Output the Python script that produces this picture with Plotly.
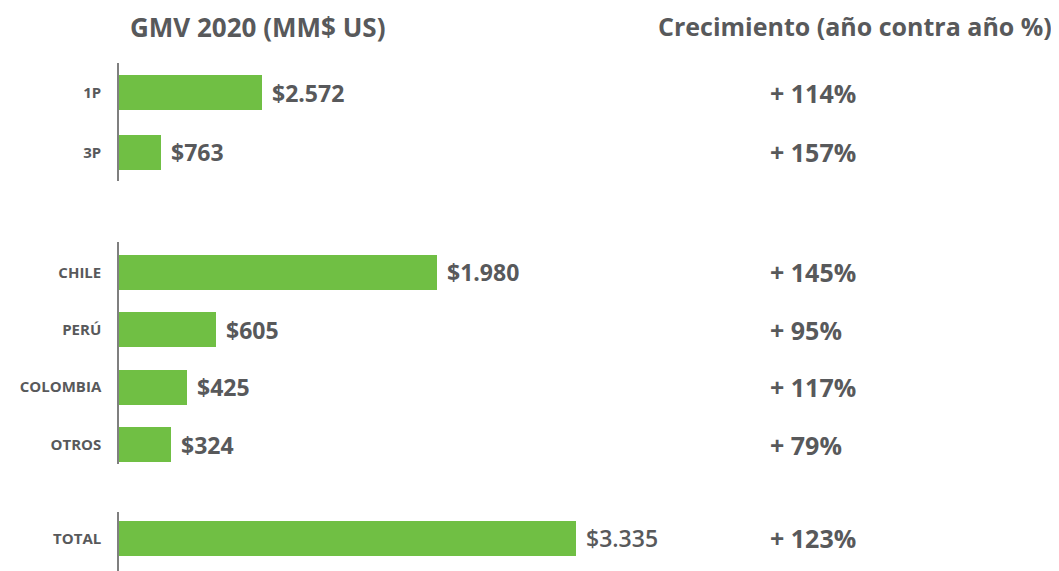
import plotly.graph_objects as go

# Data
g1_cats = ["1P", "3P"]
g1_vals = [2572, 763]
g1_labels = ["$2.572", "$763"]
g1_growth = ["+ 114%", "+ 157%"]

g2_cats = ["CHILE", "PERÚ", "COLOMBIA", "OTROS"]
g2_vals = [1980, 605, 425, 324]
g2_labels = ["$1.980", "$605", "$425", "$324"]
g2_growth = ["+ 145%", "+ 95%", "+ 117%", "+ 79%"]

g3_cats = ["TOTAL"]
g3_vals = [3335]
g3_labels = ["$3.335"]
g3_growth = ["+ 123%"]

W, H = 1059, 571
OFF = 8  # page body margin
GREEN = "#70bf44"
GRAY = "#58595b"
FONT = "Open Sans"

def px(p):
    return (p - OFF) / W

def py(p):
    return 1 - (p - OFF) / H

x0 = px(119)
fig = go.Figure()

groups = [
    (g1_cats, g1_vals, g1_labels, g1_growth, "x", "y", 17050, [63, 181], [1.48, -0.5], 0.59, ["bold"] * 2),
    (g2_cats, g2_vals, g2_labels, g2_growth, "x2", "y2", 5902, [242, 464], [3.34, -0.53], 0.61, ["bold"] * 4),
    (g3_cats, g3_vals, g3_labels, g3_growth, "x3", "y3", 6918, [512, 571], [0.565, -0.46], 0.61, [600]),
]

annotations = []
for i, (cats, vals, labs, grow, xa, ya, xr, dom, yr, bw, weights) in enumerate(groups):
    fig.add_trace(go.Bar(
        x=vals, y=cats, orientation="h", xaxis=xa, yaxis=ya,
        marker=dict(color=GREEN, line=dict(width=0)), width=bw,
        hoverinfo="skip", showlegend=False,
    ))
    suffix = "" if i == 0 else str(i + 1)
    d1 = max(py(dom[1]), 0)
    fig.update_layout(**{
        "xaxis" + suffix: dict(domain=[x0, 1], range=[0, xr], visible=False,
                               anchor="y" + suffix),
        "yaxis" + suffix: dict(domain=[d1, py(dom[0])], range=yr,
                               anchor="x" + suffix, type="category",
                               showline=True, linecolor="#7f7f7f", linewidth=1.5,
                               showgrid=False, zeroline=False, ticks="",
                               ticklabelstandoff=13, automargin=False,
                               tickfont=dict(family=FONT, size=15, color=GRAY,
                                             weight="bold")),
    })
    for c, v, l, g, wt in zip(cats, vals, labs, grow, weights):
        annotations.append(dict(
            x=v, y=c, xref=xa, yref=ya, text=l, showarrow=False,
            xanchor="left", yanchor="middle", xshift=8,
            font=dict(family=FONT, size=23, color=GRAY, weight=wt),
        ))
        annotations.append(dict(
            x=px(768), y=c, xref="paper", yref=ya, text=g, showarrow=False,
            xanchor="left", yanchor="middle",
            font=dict(family=FONT, size=25, color=GRAY, weight="bold"),
        ))

annotations.append(dict(x=px(257), y=1, xref="paper", yref="paper",
                        text="GMV 2020 (MM$ US)", showarrow=False,
                        xanchor="center", yanchor="top", borderpad=0,
                        font=dict(family=FONT, size=26, color=GRAY, weight="bold")))
annotations.append(dict(x=px(855), y=1, xref="paper", yref="paper",
                        text="Crecimiento (año contra año %)", showarrow=False,
                        xanchor="center", yanchor="top", borderpad=0,
                        font=dict(family=FONT, size=25, color=GRAY, weight="bold")))

fig.update_layout(
    width=W, height=H,
    margin=dict(l=0, r=0, t=0, b=0),
    paper_bgcolor="white", plot_bgcolor="white",
    annotations=annotations,
    bargap=0,
)

fig.write_html("out.html")
